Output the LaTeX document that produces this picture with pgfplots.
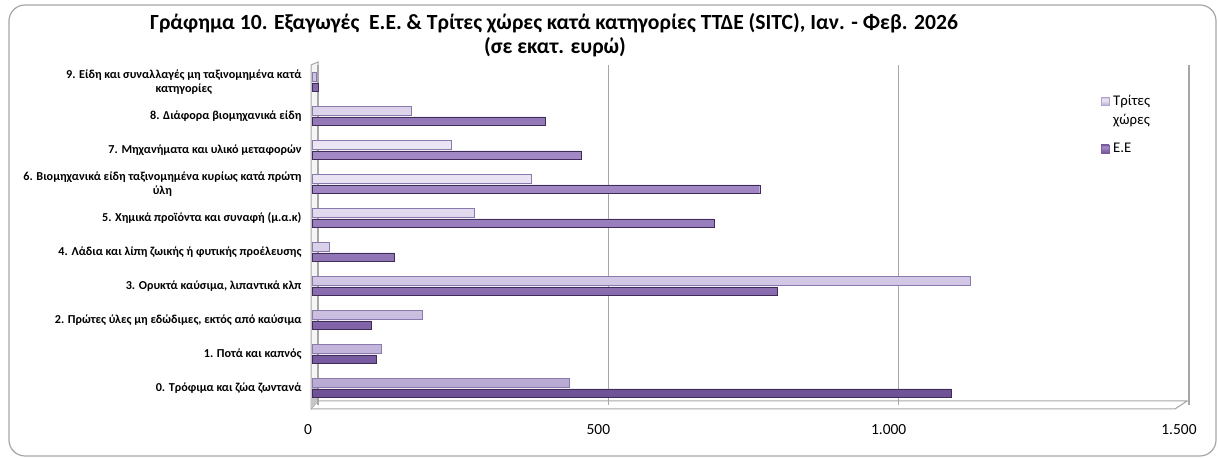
\documentclass[border=0pt]{standalone}
\usepackage{fontspec}
\setmainfont{Carlito}
\usepackage{pgfplots}
\pgfplotsset{compat=1.18}

\definecolor{tLight}{HTML}{EEE9F6}
\definecolor{tMid}{HTML}{C1B3DA}
\definecolor{tDark}{HTML}{8A79AC}
\definecolor{tLeg}{HTML}{B1A3CB}
\definecolor{eLight}{HTML}{A68DC8}
\definecolor{eMid}{HTML}{7759A0}
\definecolor{eDark}{HTML}{3F2C58}
\definecolor{eLeg}{HTML}{7B5E9D}
\definecolor{frame}{HTML}{A6A6A6}

\pgfdeclareverticalshading{tbar}{100bp}{color(0bp)=(tDark); color(30bp)=(tMid); color(62bp)=(tLight); color(80bp)=(tMid); color(100bp)=(tDark)}
\pgfdeclareverticalshading{ebar}{100bp}{color(0bp)=(eDark); color(30bp)=(eMid); color(62bp)=(eLight); color(80bp)=(eMid); color(100bp)=(eDark)}

\begin{document}
\begin{tikzpicture}[x=1bp,y=1bp]
\useasboundingbox (0,0) rectangle (1218,458);
% outer frame
\draw[frame, line width=1.2bp, rounded corners=16bp] (9,2) rectangle (1216,453);
% title
\node[font=\bfseries\fontsize{21.7}{25}\selectfont] at (554,435) {Γράφημα 10. Εξαγωγές\ \ Ε.Ε. \& Τρίτες χώρες κατά κατηγορίες ΤΤΔΕ (SITC), Ιαν. - Φεβ. 2026};
\node[font=\bfseries\fontsize{21.7}{25}\selectfont] at (555,411) {(σε εκατ. ευρώ)};
% left wall and floor (3D look)
\draw[frame, line width=1bp, fill=gray!8] (311,49) -- (311,393) -- (318,396) -- (318,57) -- cycle;
\fill[gray!45] (311,49) -- (318,57) -- (318,80) -- (311,76) -- cycle;
\draw[frame, line width=1bp] (311,49) -- (1175,49) -- (1187,57) -- (318,57);

\begin{axis}[
  at={(312bp,53bp)}, anchor=south west,
  scale only axis,
  width=871bp, height=340bp,
  xmin=0, xmax=1500,
  ymin=-0.5, ymax=9.5,
  xtick={0,500,1000,1500},
  ytick={0,...,9},
  yticklabels={
    {0. Τρόφιμα και ζώα ζωντανά},
    {1. Ποτά και καπνός},
    {2. Πρώτες ύλες μη εδώδιμες, εκτός από καύσιμα},
    {3. Ορυκτά καύσιμα, λιπαντικά κλπ},
    {4. Λάδια και λίπη ζωικής ή φυτικής προέλευσης},
    {5. Χημικά προϊόντα και συναφή (μ.α.κ)},
    {6. Βιομηχανικά είδη ταξινομημένα κυρίως κατά πρώτη\\ύλη},
    {7. Μηχανήματα και υλικό μεταφορών},
    {8. Διάφορα βιομηχανικά είδη},
    {9. Είδη και συναλλαγές μη ταξινομημένα κατά\\κατηγορίες}},
  yticklabel style={font=\bfseries\fontsize{12.2}{14}\selectfont, align=center, xshift=-7bp},
  xticklabel style={font=\fontsize{15.5}{18}\selectfont, xshift=-4bp, yshift=-16bp},
  /pgf/number format/assume math mode=true,
  /pgf/number format/1000 sep={.},
  axis line style={draw=none},
  major tick length=0pt,
  xmajorgrids,
  grid style={frame, line width=1.1bp, xshift=6bp},
  clip=false,
  legend style={at={(0.902,0.925)}, anchor=north west, draw=none, fill=none,
    font=\fontsize{14.8}{20}\selectfont, cells={anchor=west, align=left},
    row sep=13bp, column sep=2bp},
]
\addplot[xbar, bar width=8.5bp, bar shift=5.2bp, shade, shading=tbar, draw=tDark, line width=0.4bp,
  legend image code/.code={\fill[tLeg] (0bp,5bp) rectangle (8bp,13bp);}]
  coordinates {
  (443,0) (120,1) (190,2) (1133,3) (29,4) (280,5) (377,6) (240,7) (171,8) (8,9)
  };
\addlegendentry{Τρίτες\\χώρες}
\addplot[xbar, bar width=8.5bp, bar shift=-5.2bp, shade, shading=ebar, draw=eDark, line width=0.4bp,
  legend image code/.code={\fill[eLeg] (0bp,-4bp) rectangle (8bp,4bp);}]
  coordinates {
  (1101,0) (110,1) (102,2) (801,3) (141,4) (692,5) (771,6) (464,7) (401,8) (10,9)
  };
\addlegendentry{Ε.Ε}
\end{axis}
\end{tikzpicture}
\end{document}
